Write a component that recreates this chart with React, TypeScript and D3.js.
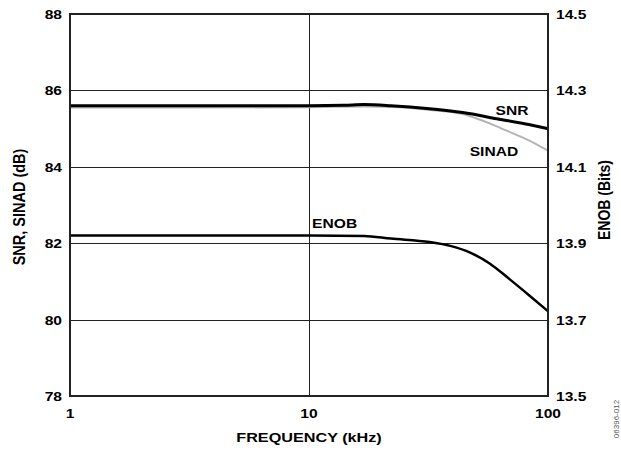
import * as d3 from 'd3';
import type { ReactNode } from 'react';

// SNR / SINAD in dB, ENOB in bits, frequency in kHz
const snrFreq = [1, 3, 10, 14, 17, 22, 32, 44, 61, 84, 100];
const snrDb = [85.6, 85.6, 85.6, 85.61, 85.63, 85.6, 85.52, 85.42, 85.26, 85.1, 85.0];

const sinadFreq = [1, 3, 10, 17, 24, 32, 44, 52, 61, 71, 84, 100];
const sinadDb = [85.55, 85.55, 85.56, 85.58, 85.56, 85.49, 85.38, 85.23, 85.06, 84.88, 84.68, 84.42];

const enobFreq = [1, 10, 17, 22, 32, 39, 47, 57, 69, 84, 100];
const enobBits = [13.92, 13.92, 13.919, 13.912, 13.903, 13.893, 13.876, 13.847, 13.806, 13.762, 13.722];

const xTicks = [1, 10, 100];
const leftTicks = [78, 80, 82, 84, 86, 88];
const rightTicks = [13.5, 13.7, 13.9, 14.1, 14.3, 14.5];

const W = 621;
const H = 453;
const margin = { top: 14, right: 73, bottom: 57, left: 70 };
const font = '"Liberation Sans", Arial, sans-serif';
// the original figure is stretched sideways, so the glyphs are too
const stretch = 1.2;

type TProps = {
  x: number;
  y: number;
  size?: number;
  anchor?: 'start' | 'middle' | 'end';
  vertical?: boolean;
  children: ReactNode;
};

function T({ x, y, size = 13, anchor = 'middle', vertical = false, children }: TProps) {
  const t = vertical
    ? `translate(${x},${y}) rotate(-90) scale(1,${stretch})`
    : `translate(${x},${y}) scale(${stretch},1)`;
  return (
    <text transform={t} fontSize={size} textAnchor={anchor}>
      {children}
    </text>
  );
}

export default function App() {
  const innerW = W - margin.left - margin.right;
  const innerH = H - margin.top - margin.bottom;

  const x = d3.scaleLog().domain([1, 100]).range([0, innerW]);
  const yL = d3.scaleLinear().domain([78, 88]).range([innerH, 0]);
  const yR = d3.scaleLinear().domain([13.5, 14.5]).range([innerH, 0]);

  const zip = (fs: number[], vs: number[]) => fs.map((f, i) => [f, vs[i]] as [number, number]);

  const lineL = d3.line<[number, number]>()
    .x((d) => x(d[0]))
    .y((d) => yL(d[1]))
    .curve(d3.curveMonotoneX);
  const lineR = d3.line<[number, number]>()
    .x((d) => x(d[0]))
    .y((d) => yR(d[1]))
    .curve(d3.curveMonotoneX);

  const snap = (v: number) => Math.round(v) + 0.5;

  return (
    <svg
      width={W}
      height={H}
      style={{ position: 'absolute', left: 0, top: 0, background: '#fff' }}
      fontFamily={font}
      fontWeight="bold"
    >
      <g transform={`translate(${margin.left},${margin.top})`}>
        {/* grid */}
        {leftTicks.slice(1, -1).map((t) => (
          <line key={t} x1={0} x2={innerW} y1={snap(yL(t))} y2={snap(yL(t))} stroke="#222" strokeWidth={1} />
        ))}
        <line x1={snap(x(10))} x2={snap(x(10))} y1={0} y2={innerH} stroke="#222" strokeWidth={1} />

        {/* curves */}
        <path d={lineL(zip(sinadFreq, sinadDb)) ?? ''} fill="none" stroke="#b4b4b4" strokeWidth={2} />
        <path d={lineL(zip(snrFreq, snrDb)) ?? ''} fill="none" stroke="#000" strokeWidth={3} />
        <path d={lineR(zip(enobFreq, enobBits)) ?? ''} fill="none" stroke="#000" strokeWidth={2.5} />

        {/* frame */}
        <rect x={0} y={0} width={innerW} height={innerH} fill="none" stroke="#222" strokeWidth={2} />

        {/* curve labels */}
        <T x={x(70.7)} y={yL(85.36)}>SNR</T>
        <T x={x(59.4)} y={yL(84.28)}>SINAD</T>
        <T x={x(12.8)} y={yR(13.94)}>ENOB</T>

        {/* left axis */}
        {leftTicks.map((t) => (
          <T key={t} x={-8} y={yL(t) + 5} anchor="end">{t}</T>
        ))}
        {/* right axis */}
        {rightTicks.map((t) => (
          <T key={t} x={innerW + 8} y={yR(t) + 5} anchor="start">{t.toFixed(1)}</T>
        ))}
        {/* bottom axis */}
        {xTicks.map((t) => (
          <T key={t} x={x(t)} y={innerH + 22}>{t}</T>
        ))}
      </g>

      <T x={margin.left + innerW / 2} y={442} size={13.5}>FREQUENCY (kHz)</T>
      <T x={25} y={207} size={14.5} vertical>SNR, SINAD (dB)</T>
      <T x={610} y={200} size={14} vertical>ENOB (Bits)</T>
      <text
        transform="translate(619,419) rotate(-90)"
        fontSize={8}
        fontWeight="normal"
        fill="#555"
        textAnchor="middle"
      >
        06396-012
      </text>
    </svg>
  );
}
